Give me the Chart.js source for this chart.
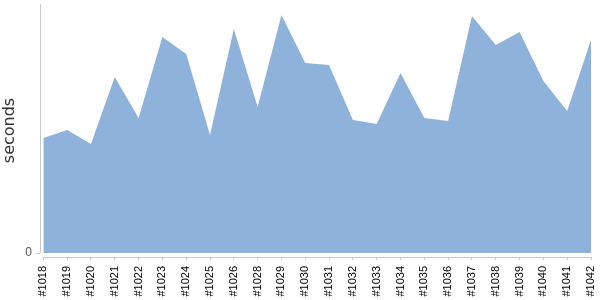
<!DOCTYPE html>
<html>
<head>
<meta charset="utf-8">
<script src="https://cdn.jsdelivr.net/npm/chart.js@4/dist/chart.umd.min.js"></script>
<style>
    html, body { margin: 0; padding: 0; background: #fff; }
    #wrap { width: 600px; height: 300px; position: relative; }
</style>
</head>
<body>
<div id="wrap"><canvas id="chart"></canvas></div>
<script>
    // build numbers on the x axis, duration (seconds) on y
    const builds = ['#1018', '#1019', '#1020', '#1021', '#1022', '#1023', '#1024', '#1025', '#1026', '#1028',
        '#1029', '#1030', '#1031', '#1032', '#1033', '#1034', '#1035', '#1036', '#1037', '#1038',
        '#1039', '#1040', '#1041', '#1042'];
    const seconds = [115, 123, 109, 176, 135, 216, 199, 118, 224, 146,
        238, 190, 188, 133, 129, 180, 135, 132, 237, 208,
        221, 172, 142, 213];
    const yTicks = [0];

    const axisColor = '#c8c8c8';
    const fillColor = 'rgb(143,178,218)';

    // axis lines drawn only over the data span, like the original
    const axisLines = {
        id: 'axisLines',
        afterDraw(chart) {
            const { ctx, chartArea, scales } = chart;
            const x = scales.x, y = scales.y;
            ctx.save();
            ctx.strokeStyle = axisColor;
            ctx.lineWidth = 1;
            ctx.beginPath();
            const lx = Math.round(chartArea.left) + 0.5;
            ctx.moveTo(lx, y.getPixelForValue(y.max));
            ctx.lineTo(lx, y.getPixelForValue(0));
            const by = Math.round(chartArea.bottom) + 0.5;
            ctx.moveTo(x.getPixelForValue(0), by);
            ctx.lineTo(x.getPixelForValue(builds.length - 1), by);
            ctx.stroke();
            ctx.restore();
        }
    };

    new Chart(document.getElementById('chart'), {
        type: 'line',
        data: {
            datasets: [{
                data: seconds.map((v, i) => ({ x: i, y: v })),
                backgroundColor: fillColor,
                borderWidth: 0,
                pointRadius: 0,
                tension: 0,
                fill: 'origin'
            }]
        },
        options: {
            responsive: true,
            maintainAspectRatio: false,
            animation: false,
            layout: { padding: { top: 4, right: 9, left: 0, bottom: 0 } },
            plugins: { legend: { display: false }, tooltip: { enabled: false } },
            scales: {
                x: {
                    type: 'linear',
                    min: -0.14,
                    max: builds.length - 1,
                    afterBuildTicks: s => { s.ticks = builds.map((b, i) => ({ value: i })); },
                    afterFit: s => { s.height = 43; s.paddingLeft = 0; s.paddingRight = 0; },
                    border: { display: false },
                    grid: { drawOnChartArea: false, drawTicks: true, tickLength: 3, color: axisColor },
                    ticks: {
                        autoSkip: false,
                        minRotation: 90,
                        maxRotation: 90,
                        padding: 6,
                        color: '#000',
                        font: { family: 'Liberation Sans, Arial', size: 11 },
                        callback: v => builds[v]
                    }
                },
                y: {
                    min: -4,
                    max: 249,
                    afterBuildTicks: s => { s.ticks = yTicks.map(v => ({ value: v })); },
                    afterFit: s => { s.width = 40; s.paddingTop = 0; s.paddingBottom = 0; },
                    border: { display: false },
                    grid: { drawOnChartArea: false, drawTicks: true, tickLength: 4, color: axisColor },
                    ticks: {
                        padding: 4,
                        color: '#555',
                        font: { family: 'Liberation Sans, Arial', size: 12 }
                    },
                    title: {
                        display: true,
                        text: 'seconds',
                        color: '#333',
                        padding: { top: 0, bottom: 6 },
                        font: { family: 'DejaVu Sans', size: 16 }
                    }
                }
            }
        },
        plugins: [axisLines]
    });
</script>
</body>
</html>
